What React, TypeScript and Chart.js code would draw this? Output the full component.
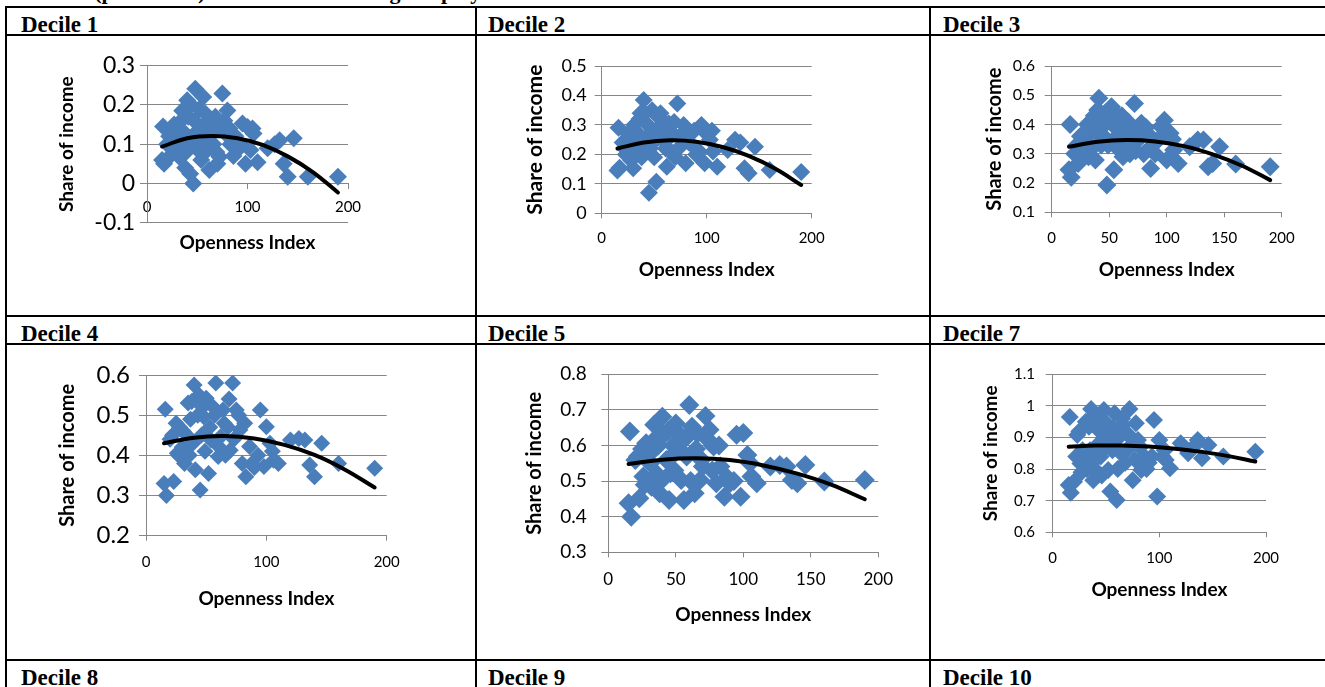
import React, { useEffect, useRef } from 'react';
import { Chart, registerables } from 'chart.js';

Chart.register(...registerables);
Chart.defaults.font.family = "Lato, 'Open Sans', sans-serif";

// ---------------- data ----------------
const PAGE_TITLE = 'Income (per decile) with a second degree polynomial fitted line.';
const HEADERS_ROW_1 = ['Decile 1', 'Decile 2', 'Decile 3'];
const HEADERS_ROW_2 = ['Decile 4', 'Decile 5', 'Decile 7'];
const HEADERS_ROW_3 = ['Decile 8', 'Decile 9', 'Decile 10'];
const Y_TITLE = 'Share of income';
const X_TITLE = 'Openness Index';

// openness index of each country (shared by all panels)
const OPENNESS = [
  15, 16, 17, 20, 23, 26, 28, 30, 32, 34,
  36, 38, 40, 41, 43, 45, 46, 48, 50, 52,
  54, 56, 58, 60, 62, 64, 66, 68, 70, 72,
  75, 78, 80, 83, 86, 90, 95, 98, 100, 103,
  106, 110, 120, 127, 132, 136, 140, 146, 160, 190,
  22, 25, 27, 31, 35, 37, 39, 44, 47, 49,
  53, 57, 61, 65, 69, 73, 77, 82, 88, 93, 105,
];

const DECILE_1 = [
  0.06, 0.145, 0.05, 0.10, 0.07, 0.11, 0.09, 0.13, 0.068, 0.16,
  0.10, 0.04, 0.212, 0.17, 0.025, 0.12, 0.0, 0.241, 0.127, 0.19,
  0.06, 0.22, 0.178, 0.085, 0.034, 0.15, 0.10, 0.17, 0.05, 0.068,
  0.229, 0.127, 0.186, 0.10, 0.07, 0.085, 0.153, 0.05, 0.144, 0.085,
  0.127, 0.054, 0.09, 0.10, 0.11, 0.05, 0.017, 0.115, 0.017, 0.017,
  0.12, 0.09, 0.15, 0.11, 0.185, 0.13, 0.08, 0.20, 0.16, 0.09,
  0.14, 0.11, 0.16, 0.13, 0.08, 0.14, 0.16, 0.14, 0.12, 0.10, 0.14,
];
const DECILE_2 = [
  0.145, 0.29, 0.155, 0.24, 0.20, 0.25, 0.18, 0.153, 0.28, 0.23,
  0.32, 0.19, 0.385, 0.34, 0.26, 0.07, 0.22, 0.35, 0.19, 0.107,
  0.29, 0.34, 0.25, 0.31, 0.158, 0.305, 0.21, 0.27, 0.19, 0.373,
  0.26, 0.30, 0.17, 0.24, 0.232, 0.20, 0.30, 0.17, 0.27, 0.25,
  0.21, 0.158, 0.215, 0.25, 0.24, 0.153, 0.136, 0.226, 0.147, 0.14,
  0.22, 0.27, 0.20, 0.30, 0.26, 0.34, 0.22, 0.30, 0.27, 0.24,
  0.33, 0.28, 0.22, 0.26, 0.31, 0.22, 0.27, 0.27, 0.28, 0.21, 0.28,
];
const DECILE_3 = [
  0.245, 0.40, 0.22, 0.30, 0.267, 0.34, 0.31, 0.358, 0.29, 0.38,
  0.415, 0.279, 0.45, 0.49, 0.33, 0.36, 0.40, 0.193, 0.42, 0.461,
  0.245, 0.324, 0.427, 0.38, 0.29, 0.37, 0.41, 0.30, 0.35, 0.472,
  0.347, 0.404, 0.30, 0.37, 0.25, 0.30, 0.393, 0.415, 0.279, 0.37,
  0.313, 0.267, 0.324, 0.347, 0.347, 0.256, 0.267, 0.324, 0.265, 0.256,
  0.33, 0.36, 0.29, 0.40, 0.32, 0.43, 0.37, 0.42, 0.44, 0.33,
  0.40, 0.36, 0.43, 0.33, 0.39, 0.31, 0.37, 0.39, 0.33, 0.35, 0.35,
];
const DECILE_4 = [
  0.33, 0.515, 0.30, 0.44, 0.335, 0.405, 0.47, 0.42, 0.38, 0.45,
  0.40, 0.534, 0.575, 0.364, 0.50, 0.314, 0.45, 0.496, 0.542, 0.355,
  0.438, 0.52, 0.58, 0.397, 0.446, 0.513, 0.40, 0.47, 0.413, 0.58,
  0.513, 0.463, 0.38, 0.347, 0.422, 0.37, 0.513, 0.372, 0.471, 0.43,
  0.388, 0.38, 0.438, 0.442, 0.438, 0.376, 0.347, 0.43, 0.38, 0.368,
  0.45, 0.48, 0.40, 0.46, 0.53, 0.49, 0.43, 0.55, 0.52, 0.41,
  0.47, 0.50, 0.42, 0.48, 0.54, 0.44, 0.50, 0.48, 0.38, 0.40, 0.41,
];
const DECILE_5 = [
  0.438, 0.639, 0.40, 0.559, 0.452, 0.513, 0.606, 0.575, 0.484, 0.658,
  0.52, 0.466, 0.681, 0.63, 0.559, 0.447, 0.522, 0.60, 0.662, 0.587,
  0.503, 0.447, 0.569, 0.714, 0.653, 0.466, 0.634, 0.503, 0.541, 0.683,
  0.644, 0.597, 0.494, 0.541, 0.456, 0.494, 0.63, 0.456, 0.635, 0.573,
  0.513, 0.494, 0.541, 0.545, 0.541, 0.503, 0.494, 0.545, 0.499, 0.503,
  0.57, 0.59, 0.49, 0.55, 0.62, 0.60, 0.50, 0.64, 0.57, 0.53,
  0.63, 0.62, 0.50, 0.59, 0.56, 0.62, 0.53, 0.60, 0.51, 0.50, 0.55,
];
const DECILE_7 = [
  0.75, 0.965, 0.725, 0.76, 0.908, 0.818, 0.86, 0.83, 0.80, 0.934,
  0.99, 0.765, 0.797, 0.95, 0.88, 0.84, 0.78, 0.987, 0.90, 0.797,
  0.729, 0.86, 0.977, 0.702, 0.90, 0.85, 0.94, 0.82, 0.913, 0.99,
  0.765, 0.945, 0.892, 0.797, 0.84, 0.82, 0.955, 0.713, 0.892, 0.84,
  0.829, 0.803, 0.882, 0.85, 0.87, 0.892, 0.834, 0.876, 0.84, 0.855,
  0.84, 0.92, 0.79, 0.95, 0.86, 0.82, 0.97, 0.92, 0.86, 0.95,
  0.88, 0.93, 0.80, 0.96, 0.86, 0.90, 0.83, 0.87, 0.80, 0.84, 0.86,
];

// fitted second degree polynomial, read at a few openness values
const TREND_X = [15, 40, 65, 90, 115, 140, 165, 190];
const TREND_1 = [0.094, 0.115, 0.121, 0.115, 0.098, 0.069, 0.029, -0.023];
const TREND_2 = [0.22, 0.24, 0.248, 0.243, 0.225, 0.195, 0.152, 0.096];
const TREND_3 = [0.324, 0.341, 0.347, 0.342, 0.326, 0.298, 0.26, 0.21];
const TREND_4 = [0.43, 0.444, 0.448, 0.442, 0.426, 0.401, 0.365, 0.32];
const TREND_5 = [0.548, 0.56, 0.564, 0.559, 0.544, 0.521, 0.49, 0.449];
const TREND_7 = [0.871, 0.8745, 0.8746, 0.8713, 0.8646, 0.8545, 0.841, 0.824];

// axis ranges
const Y_RANGE_1 = [-0.1, 0.3];
const Y_RANGE_2 = [0, 0.5];
const Y_RANGE_3 = [0.1, 0.6];
const Y_RANGE_4 = [0.2, 0.6];
const Y_RANGE_5 = [0.3, 0.8];
const Y_RANGE_7 = [0.6, 1.1];
const X_RANGE = [0, 200];

// ---------------- styling / layout ----------------
const GRID = '#868686';
const MARKER = '#4A7EBB';

type Spec = {
  values: number[]; trend: number[]; yRange: number[]; xStep: number; zeroAxis?: boolean;
  area: { l: number; r: number; t: number; b: number };
  cell: { t: number; r: number; b: number };
  yTitle: { cx: number; fs: number }; xTitle: { cy: number; fs: number };
  yTick: { fs: number; right: number }; xTick: { fs: number; cy: number };
  markerR: number;
};

const PANELS: Spec[] = [
  { values: DECILE_1, trend: TREND_1, yRange: Y_RANGE_1, xStep: 100, zeroAxis: true,
    area: { l: 147, r: 348, t: 65.7, b: 222.7 }, cell: { t: 37, r: 474, b: 314 },
    yTitle: { cx: 66.7, fs: 19 }, xTitle: { cy: 242.7, fs: 19 },
    yTick: { fs: 23, right: 135 }, xTick: { fs: 15, cy: 206.7 }, markerR: 9 },
  { values: DECILE_2, trend: TREND_2, yRange: Y_RANGE_2, xStep: 100,
    area: { l: 601.7, r: 811.7, t: 66, b: 213.3 }, cell: { t: 37, r: 928, b: 314 },
    yTitle: { cx: 536, fs: 21 }, xTitle: { cy: 270, fs: 19 },
    yTick: { fs: 18, right: 586.7 }, xTick: { fs: 15, cy: 238.3 }, markerR: 9 },
  { values: DECILE_3, trend: TREND_3, yRange: Y_RANGE_3, xStep: 50,
    area: { l: 1051.7, r: 1281.7, t: 66, b: 212.3 }, cell: { t: 37, r: 1325, b: 314 },
    yTitle: { cx: 995, fs: 20 }, xTitle: { cy: 270, fs: 19 },
    yTick: { fs: 16, right: 1035 }, xTick: { fs: 15, cy: 238.3 }, markerR: 9.5 },
  { values: DECILE_4, trend: TREND_4, yRange: Y_RANGE_4, xStep: 100,
    area: { l: 146, r: 386.7, t: 375, b: 535.7 }, cell: { t: 346, r: 474, b: 658 },
    yTitle: { cx: 68.3, fs: 20 }, xTitle: { cy: 598.3, fs: 19 },
    yTick: { fs: 24, right: 130 }, xTick: { fs: 15, cy: 561.7 }, markerR: 8.5 },
  { values: DECILE_5, trend: TREND_5, yRange: Y_RANGE_5, xStep: 50,
    area: { l: 608.3, r: 878.3, t: 374.3, b: 552.3 }, cell: { t: 346, r: 928, b: 658 },
    yTitle: { cx: 535, fs: 20 }, xTitle: { cy: 615, fs: 19 },
    yTick: { fs: 19, right: 586.7 }, xTick: { fs: 17, cy: 580 }, markerR: 10 },
  { values: DECILE_7, trend: TREND_7, yRange: Y_RANGE_7, xStep: 100,
    area: { l: 1052.7, r: 1266, t: 374.3, b: 532.3 }, cell: { t: 346, r: 1325, b: 658 },
    yTitle: { cx: 990, fs: 19 }, xTitle: { cy: 590, fs: 19 },
    yTick: { fs: 15, right: 1035 }, xTick: { fs: 15, cy: 558.3 }, markerR: 9 },
];

const H_LINES = [7, 35, 316, 344, 660];
const V_LINES = [6, 476, 930];
const HEADER_X = [21, 488, 943];
const HEADER_BASELINE = [31.7, 341, 685];

function geo(s: Spec) {
  const L = Math.round(s.yTitle.cx - 0.6 * s.yTitle.fs);
  const T = s.cell.t;
  const R = s.cell.r;
  const W = R - L;
  const [ymin, ymax] = s.yRange;
  const y0 = s.area.t + (ymax / (ymax - ymin)) * (s.area.b - s.area.t);
  let H: number, padB: number, xHeight: number, axisY: number;
  if (s.zeroAxis) {
    H = s.cell.b - T;
    padB = T + H - s.area.b;
    xHeight = s.xTitle.cy - y0 + 0.6 * s.xTitle.fs;
    axisY = y0;
  } else {
    const bot = Math.round(s.xTitle.cy + 0.6 * s.xTitle.fs);
    H = bot - T;
    padB = 0;
    xHeight = bot - s.area.b;
    axisY = s.area.b;
  }
  return {
    L, T, W, H, padB, xHeight,
    padT: s.area.t - T,
    padR: R - s.area.r,
    yWidth: s.area.l - L,
    yTickPad: s.area.l - 7 - s.yTick.right,
    xTickPad: s.xTick.cy - axisY - 5 - 0.6 * s.xTick.fs,
  };
}

const fmt = (v: any) => String(Math.round(Number(v) * 10) / 10);

function Panel({ spec }: { spec: Spec }) {
  const ref = useRef<HTMLCanvasElement>(null);
  const g = geo(spec);
  useEffect(() => {
    if (!ref.current) return;
    const chart = new Chart(ref.current, {
      type: 'scatter',
      data: {
        datasets: [
          {
            data: TREND_X.map((x, i) => ({ x, y: spec.trend[i] })),
            showLine: true, borderColor: '#000', borderWidth: 4, tension: 0.4,
            pointRadius: 0, borderCapStyle: 'round', borderJoinStyle: 'round',
          } as any,
          {
            data: OPENNESS.map((x, i) => ({ x, y: spec.values[i] })),
            pointStyle: 'rectRot', pointRadius: spec.markerR,
            backgroundColor: MARKER, borderColor: MARKER, borderWidth: 0,
          } as any,
        ],
      },
      options: {
        responsive: false,
        animation: false,
        devicePixelRatio: 1,
        events: [],
        layout: { padding: { left: 0, top: g.padT, right: g.padR, bottom: g.padB } },
        plugins: { legend: { display: false }, tooltip: { enabled: false } },
        scales: {
          x: {
            type: 'linear',
            position: spec.zeroAxis ? ({ y: 0 } as any) : 'bottom',
            min: X_RANGE[0], max: X_RANGE[1],
            ticks: { stepSize: spec.xStep, font: { size: spec.xTick.fs }, color: '#000',
              padding: g.xTickPad, maxRotation: 0, autoSkip: false, callback: fmt },
            grid: { drawOnChartArea: false, drawTicks: true, tickLength: 5, color: GRID },
            border: { display: true, color: GRID, width: 1 },
            title: { display: true, text: X_TITLE, color: '#000', padding: 0,
              font: { size: spec.xTitle.fs, weight: 'bold' } },
            afterFit: (s: any) => { s.height = g.xHeight; },
          } as any,
          y: {
            type: 'linear',
            position: 'left',
            min: spec.yRange[0], max: spec.yRange[1],
            ticks: { stepSize: 0.1, font: { size: spec.yTick.fs }, color: '#000',
              padding: g.yTickPad, callback: fmt },
            grid: { drawTicks: true, tickLength: 7, color: GRID, lineWidth: 1 },
            border: { display: true, color: GRID, width: 1 },
            title: { display: true, text: Y_TITLE, color: '#000', padding: 0,
              font: { size: spec.yTitle.fs, weight: 'bold' } },
            afterFit: (s: any) => { s.width = g.yWidth; },
          } as any,
        },
      },
    });
    return () => chart.destroy();
  }, []);
  return (
    <canvas
      ref={ref}
      width={g.W}
      height={g.H}
      style={{ position: 'absolute', left: g.L, top: g.T, width: g.W, height: g.H }}
    />
  );
}

const serif = "'Liberation Serif', 'Times New Roman', serif";

export default function App() {
  const headerRows = [HEADERS_ROW_1, HEADERS_ROW_2, HEADERS_ROW_3];
  return (
    <div style={{ position: 'fixed', left: 0, top: 0, width: 1325, height: 687, overflow: 'hidden', background: '#fff' }}>
      <div style={{ position: 'absolute', left: 13, top: -19, fontFamily: serif, fontWeight: 'bold',
        fontSize: 22, lineHeight: '22px', whiteSpace: 'nowrap', wordSpacing: 6, color: '#000' }}>
        {PAGE_TITLE}
      </div>
      {H_LINES.map((y, i) => (
        <div key={'h' + i} style={{ position: 'absolute', left: 5, top: y - 1, width: 1325, height: 2, background: '#000' }} />
      ))}
      {V_LINES.map((x, i) => (
        <div key={'v' + i} style={{ position: 'absolute', left: x - 1, top: 6, width: 2, height: 700, background: '#000' }} />
      ))}
      {headerRows.map((row, r) =>
        row.map((t, c) => (
          <div key={'t' + r + c} style={{ position: 'absolute', left: HEADER_X[c], top: HEADER_BASELINE[r] - 19.2,
            fontFamily: serif, fontWeight: 'bold', fontSize: 23, lineHeight: '23px', whiteSpace: 'nowrap', color: '#000' }}>
            {t}
          </div>
        ))
      )}
      {PANELS.map((p, i) => (
        <Panel key={i} spec={p} />
      ))}
    </div>
  );
}
